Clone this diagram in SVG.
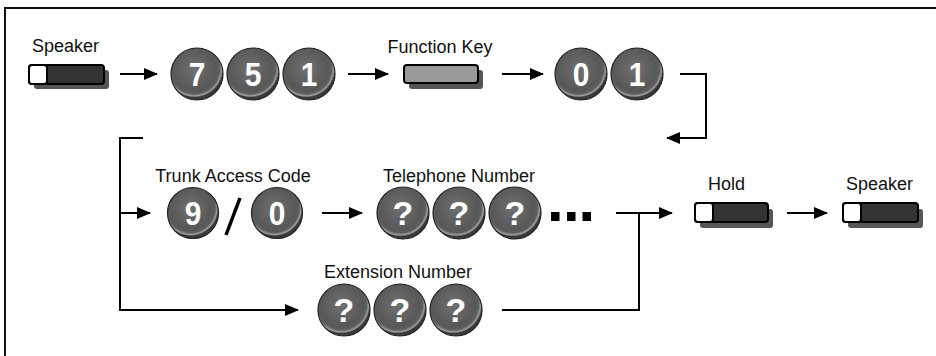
<svg xmlns="http://www.w3.org/2000/svg" width="936" height="356" viewBox="0 0 936 356">
<style>
.lbl{font-family:"Liberation Sans",Arial,sans-serif;font-size:18px;fill:#111}
.dg{font-family:"Liberation Sans",Arial,sans-serif;font-size:34px;font-weight:bold;fill:#fff;text-anchor:middle}
.key{fill:url(#kg);stroke:#222;stroke-width:1.2}
.shadow{fill:#555}
.btn{fill:#333;stroke:#000;stroke-width:2}
.fbtn{fill:#999;stroke:#000;stroke-width:2}
.wht{fill:#fff;stroke:#000;stroke-width:2}
.ln{fill:none;stroke:#000;stroke-width:2}
</style>
<defs>
<radialGradient id="kg" cx="45%" cy="40%" r="55%">
<stop offset="0" stop-color="#707070"/>
<stop offset="0.75" stop-color="#585858"/>
<stop offset="0.88" stop-color="#5e5e5e"/>
<stop offset="0.95" stop-color="#a0a0a0"/>
<stop offset="1" stop-color="#3a3a3a"/>
</radialGradient>
<marker id="ah" markerWidth="14" markerHeight="12" refX="13" refY="6" orient="auto" markerUnits="userSpaceOnUse">
<polygon points="0,0 14,6 0,12" fill="#000"/>
</marker>
</defs>
<rect width="936" height="356" fill="#fff"/>
<path d="M5,356 V8 H936" fill="none" stroke="#111" stroke-width="2"/>

<g id="speaker1">
<text class="lbl" x="32" y="52">Speaker</text>
<rect class="shadow" x="34" y="70" width="75" height="19" rx="3"/>
<rect class="btn" x="29" y="65" width="75" height="19" rx="3"/>
<rect class="wht" x="29" y="65" width="18" height="19" rx="3"/>
</g>
<g id="keys751">
<circle class="key" cx="197" cy="74" r="26"/><text class="dg" x="197" y="86" transform="translate(197 0) scale(0.88 1) translate(-197 0)">7</text>
<circle class="key" cx="253" cy="74" r="26"/><text class="dg" x="253" y="86" transform="translate(253 0) scale(0.88 1) translate(-253 0)">5</text>
<circle class="key" cx="309" cy="74" r="26"/><text class="dg" x="309" y="86" transform="translate(309 0) scale(0.88 1) translate(-309 0)">1</text>
</g>
<g id="functionkey">
<text class="lbl" x="440" y="53" text-anchor="middle">Function Key</text>
<rect class="shadow" x="409" y="70" width="74" height="19" rx="3"/>
<rect class="fbtn" x="404" y="65" width="74" height="18" rx="3"/>
</g>
<g id="keys01">
<circle class="key" cx="581" cy="74" r="26"/><text class="dg" x="581" y="86" transform="translate(581 0) scale(0.88 1) translate(-581 0)">0</text>
<circle class="key" cx="637" cy="74" r="26"/><text class="dg" x="637" y="86" transform="translate(637 0) scale(0.88 1) translate(-637 0)">1</text>
</g>
<g id="trunk">
<text class="lbl" x="233" y="182" text-anchor="middle">Trunk Access Code</text>
<circle class="key" cx="193" cy="213" r="25.5"/><text class="dg" x="193" y="225" transform="translate(193 0) scale(0.88 1) translate(-193 0)">9</text>
<line x1="240" y1="198" x2="226" y2="235" stroke="#000" stroke-width="3.5"/>
<circle class="key" cx="277" cy="213" r="25.5"/><text class="dg" x="277" y="225" transform="translate(277 0) scale(0.88 1) translate(-277 0)">0</text>
</g>
<g id="telephone">
<text class="lbl" x="459" y="182" text-anchor="middle">Telephone Number</text>
<circle class="key" cx="403" cy="213" r="26"/><text class="dg" x="403" y="225">?</text>
<circle class="key" cx="459" cy="213" r="26"/><text class="dg" x="459" y="225">?</text>
<circle class="key" cx="515" cy="213" r="26"/><text class="dg" x="515" y="225">?</text>
<rect x="551" y="212" width="8.5" height="9" fill="#000"/>
<rect x="567" y="212" width="8.5" height="9" fill="#000"/>
<rect x="582.5" y="212" width="8.5" height="9" fill="#000"/>
</g>
<g id="extension">
<text class="lbl" x="398" y="278" text-anchor="middle">Extension Number</text>
<circle class="key" cx="344" cy="310" r="26"/><text class="dg" x="344" y="322">?</text>
<circle class="key" cx="400" cy="310" r="26"/><text class="dg" x="400" y="322">?</text>
<circle class="key" cx="456" cy="310" r="26"/><text class="dg" x="456" y="322">?</text>
</g>
<g id="hold">
<text class="lbl" x="708" y="190">Hold</text>
<rect class="shadow" x="700" y="209" width="73" height="19" rx="3"/>
<rect class="btn" x="695" y="203" width="73" height="19" rx="3"/>
<rect class="wht" x="695" y="203" width="18" height="19" rx="3"/>
</g>
<g id="speaker2">
<text class="lbl" x="846" y="190">Speaker</text>
<rect class="shadow" x="848" y="209" width="75" height="19" rx="3"/>
<rect class="btn" x="843" y="203" width="75" height="19" rx="3"/>
<rect class="wht" x="843" y="203" width="18" height="19" rx="3"/>
</g>

<g id="connectors">
<path class="ln" d="M120,74 H157" marker-end="url(#ah)"/>
<path class="ln" d="M348,74 H388" marker-end="url(#ah)"/>
<path class="ln" d="M502,74 H543" marker-end="url(#ah)"/>
<path class="ln" d="M680,74 H706 V138 H667" marker-end="url(#ah)"/>
<path class="ln" d="M143,138 H120 V310 H298" marker-end="url(#ah)"/>
<path class="ln" d="M120,213 H150" marker-end="url(#ah)"/>
<path class="ln" d="M322,213 H362" marker-end="url(#ah)"/>
<path class="ln" d="M616,213 H672" marker-end="url(#ah)"/>
<path class="ln" d="M502,310 H639 V213"/>
<path class="ln" d="M787,213 H827" marker-end="url(#ah)"/>
</g>
</svg>
